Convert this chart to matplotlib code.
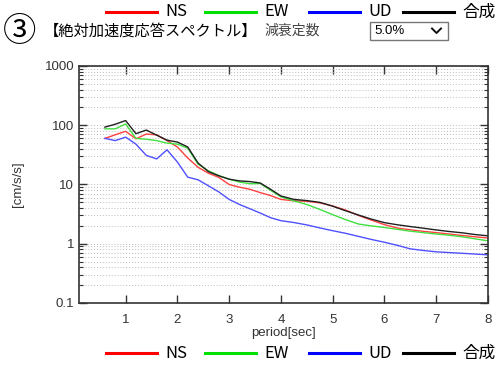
import matplotlib
matplotlib.use("Agg")
import matplotlib.pyplot as plt
from matplotlib.lines import Line2D
from matplotlib.patches import Rectangle
import matplotlib.ticker as ticker

plt.rcParams['font.family'] = ['Liberation Sans', 'Noto Sans CJK JP', 'DejaVu Sans']

# response spectrum (damping 5%)
period = [0.6, 0.8, 1.0, 1.2, 1.4, 1.6, 1.8, 2.0, 2.2, 2.4, 2.6, 2.8, 3.0, 3.2, 3.4, 3.6, 3.8, 4.0,
          4.25, 4.5, 4.75, 5.0, 5.25, 5.5, 5.75, 6.0, 6.25, 6.5, 6.75, 7.0, 7.25, 7.5, 7.75, 8.0]
ns = [60, 69, 79, 59, 71, 69, 55, 43, 28, 19.5, 15.5, 13.2, 10.0, 9.0, 8.3, 7.3, 6.5, 5.6,
      5.3, 5.2, 4.9, 4.35, 3.7, 3.0, 2.5, 2.1, 1.84, 1.72, 1.62, 1.54, 1.46, 1.38, 1.31, 1.25]
ew = [87, 87, 105, 60, 58, 55, 50, 48, 41, 22, 17, 14.2, 12.3, 11.0, 10.3, 10.4, 8.0, 6.2,
      5.3, 4.6, 3.8, 3.1, 2.55, 2.15, 2.0, 1.88, 1.75, 1.63, 1.54, 1.46, 1.39, 1.31, 1.21, 1.12]
ud = [60, 55, 63, 48, 31, 27, 38.5, 24, 13.3, 12, 9.5, 7.5, 5.6, 4.6, 3.9, 3.3, 2.75, 2.45,
      2.28, 2.08, 1.85, 1.66, 1.50, 1.33, 1.18, 1.06, 0.94, 0.82, 0.77, 0.73, 0.71, 0.69, 0.67, 0.65]
total = [93, 104, 120, 72, 83, 68, 56, 52, 43, 23, 16.5, 14.0, 12.3, 11.5, 11.2, 10.6, 8.3, 6.4,
         5.6, 5.35, 5.0, 4.3, 3.6, 3.05, 2.6, 2.27, 2.09, 1.95, 1.83, 1.71, 1.61, 1.53, 1.43, 1.36]

names = ['NS', 'EW', 'UD', '合成']
colors = ['#ff4040', '#40e040', '#5050ff', '#202020']
legend_colors = ['#ff0000', '#00e000', '#0000ff', '#000000']

fig = plt.figure(figsize=(5.01, 3.72), dpi=100)
ax = fig.add_axes([0.1577, 0.1855, 0.8163, 0.6371])

for ys, c in zip([ns, ew, ud, total], colors):
    ax.plot(period, ys, color=c, lw=1.0)

ax.set_yscale('log')
ax.set_ylim(0.1, 1000)
ax.set_xlim(0.1, 8)
ax.set_xticks([1, 2, 3, 4, 5, 6, 7, 8])
ax.yaxis.set_major_formatter(ticker.FuncFormatter(lambda v, p: '%g' % v))
ax.yaxis.set_minor_formatter(ticker.NullFormatter())
ax.tick_params(which='both', direction='in', top=True, right=True, labelsize=9.5, colors='#333333')
ax.tick_params(which='major', length=6, width=1)
ax.tick_params(which='minor', length=3, width=0.8)
ax.tick_params(axis='x', which='major', pad=8)
ax.xaxis.set_minor_locator(ticker.NullLocator())
ax.grid(True, axis='y', which='both', ls=(0, (1, 2)), color='#bbbbbb', lw=0.7)
for s in ax.spines.values():
    s.set_color('#333333')
    s.set_linewidth(1.2)

ax.set_xlabel('period[sec]', fontsize=9.5, color='#333333', labelpad=1)
ax.set_ylabel('[cm/s/s]', fontsize=9.5, color='#333333', labelpad=15)


def legend_row(y):
    xs = [106, 205, 309, 403]
    for x, name, c in zip(xs, names, legend_colors):
        fig.add_artist(Line2D([x / 501, (x + 51) / 501], [y, y], color=c, lw=2.2))
        fig.text((x + 59) / 501, y, name, fontsize=12, va='center', ha='left',
                 family=['Noto Sans CJK JP'])


legend_row(1 - 12 / 372)
legend_row(1 - 353 / 372)

fig.text(3 / 501, 1 - 32 / 372, '③', fontsize=24, va='center', ha='left', family=['Noto Sans CJK JP'])
fig.text(44 / 501, 1 - 31 / 372, '【絶対加速度応答スペクトル】', fontsize=11, va='center', ha='left',
         family=['Noto Sans CJK JP'])
fig.text(264 / 501, 1 - 31 / 372, '減衰定数', fontsize=10, va='center', ha='left', color='#444444',
         family=['Noto Sans CJK JP'])

# damping selector box
fig.add_artist(Rectangle((370 / 501, 1 - 40 / 372), 78 / 501, 18 / 372, transform=fig.transFigure,
                         facecolor='white', edgecolor='#777777', lw=1.0))
fig.text(374 / 501, 1 - 31 / 372, '5.0%', fontsize=9.5, va='center', ha='left')
fig.add_artist(Line2D([432 / 501, 436.5 / 501, 441 / 501], [1 - 28.5 / 372, 1 - 33 / 372, 1 - 28.5 / 372],
                      color='#111111', lw=1.4))

fig.savefig('out.png', dpi=100)
